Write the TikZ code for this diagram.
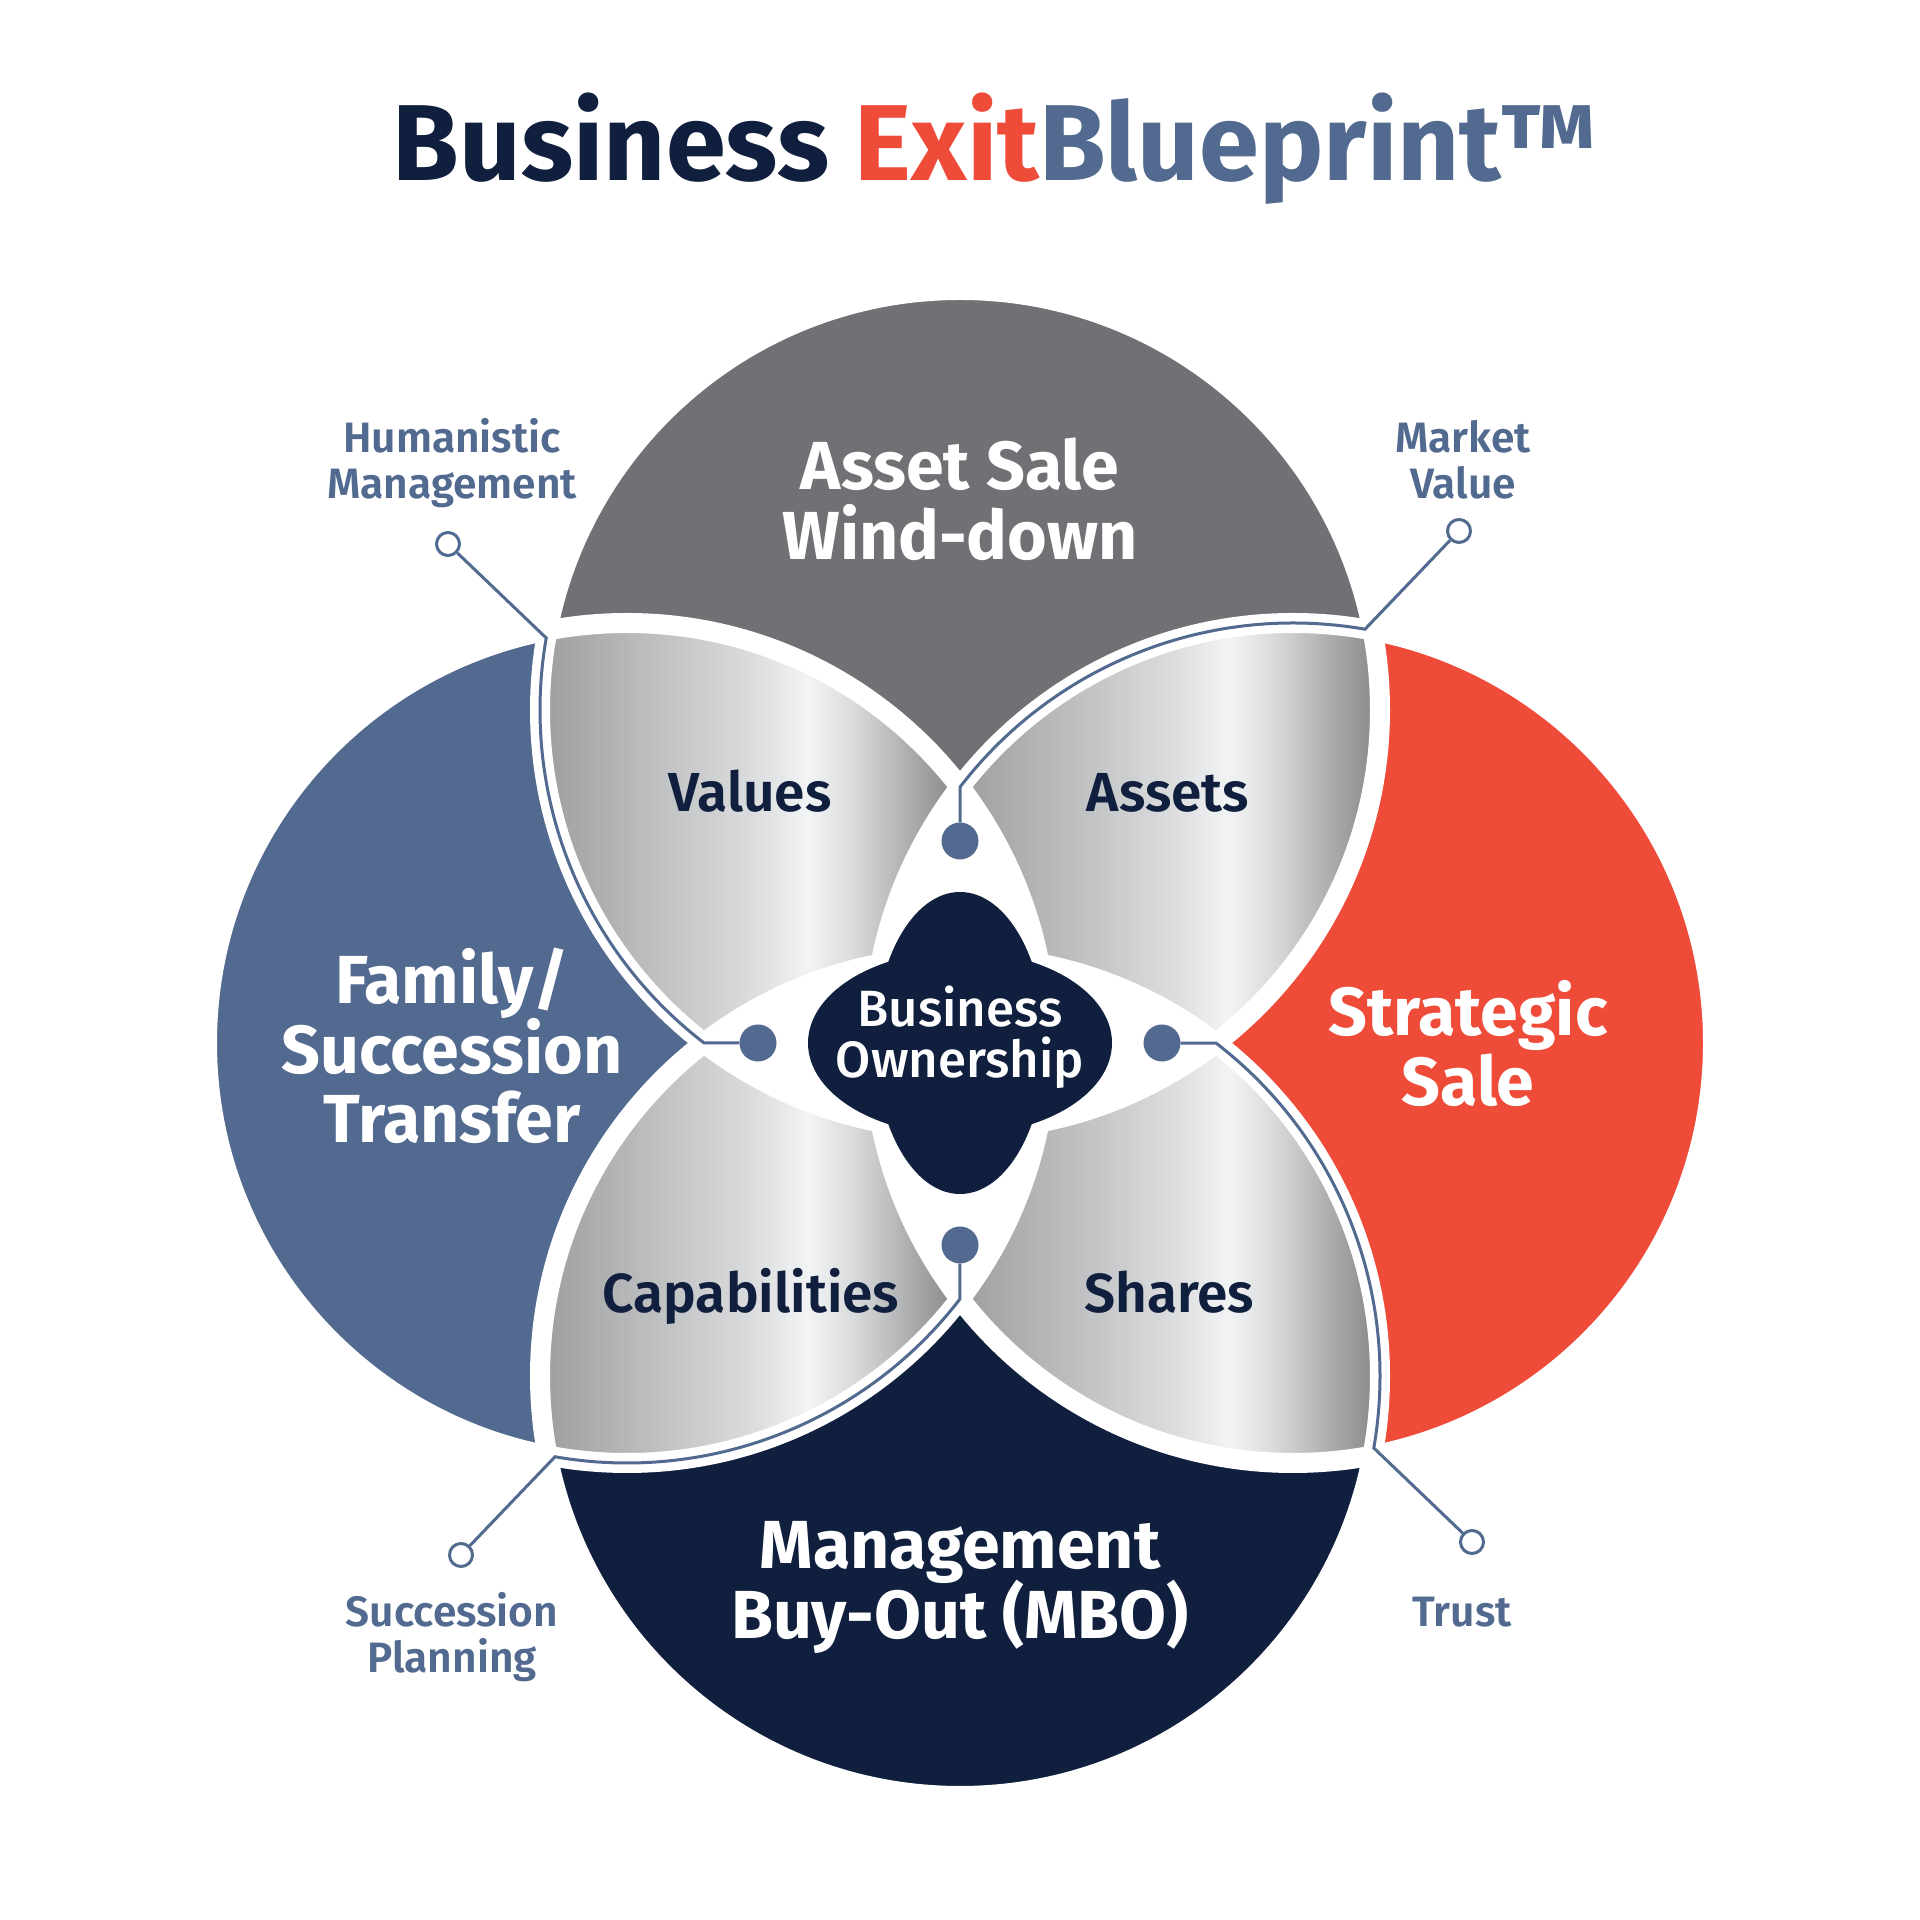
\documentclass[tikz,border=0pt]{standalone}
\usepackage{fontspec}
\setmainfont{Fira Sans}
\IfFontExistsTF{Fira Sans SemiBold}{\newfontfamily\fsemi{Fira Sans SemiBold}}{\newfontfamily\fsemi{Fira Sans}[FakeBold=1]}
\IfFontExistsTF{Fira Sans Medium}{\newfontfamily\fmed{Fira Sans Medium}}{\newfontfamily\fmed{Fira Sans}}
\usetikzlibrary{calc}
\definecolor{cnavy}{HTML}{0F1F3D}
\definecolor{cblue}{HTML}{526A8F}
\definecolor{cred}{HTML}{EF4B39}
\definecolor{cgray}{HTML}{707175}
\newcommand\stk[1]{\vtop{\lineskiplimit=-1000pt\halign{\hfil##\hfil\cr#1\crcr}}}
% metallic gradient built from thin vertical strips: #1 = left x, #2 = bottom y, #3 = top y
\newcommand\petalgrad[3]{%
  \foreach \pgI in {0,...,140}{%
    \pgfmathsetmacro\pgT{(\pgI*3+1.5)/420}%
    \pgfmathtruncatemacro\pgV{\pgT<0.27 ? 157+33*\pgT/0.27 : (\pgT<0.51 ? 190+30*(\pgT-0.27)/0.24 : (\pgT<0.64 ? 220+23*(\pgT-0.51)/0.13 : (\pgT<0.75 ? 243-26*(\pgT-0.64)/0.11 : (\pgT<0.90 ? 217-51*(\pgT-0.75)/0.15 : (\pgT<0.97 ? 166-23*(\pgT-0.90)/0.07 : 143)))))}%
    \pgfmathtruncatemacro\pgW{\pgV+1}%
    \pgfmathtruncatemacro\pgX{\pgV+3}%
    \definecolor{stripc}{RGB}{\pgV,\pgW,\pgX}%
    \fill[stripc] ({#1+3*\pgI},#2) rectangle ({#1+3*\pgI+3.8},#3);%
  }}
\begin{document}
\begin{tikzpicture}[x=1pt,y=1pt,
  conn/.style={draw=cblue, line width=3},
  hub/.style={circle, fill=cblue, minimum size=37, inner sep=0},
  tipc/.style={circle, draw=cblue, fill=white, line width=3, minimum size=23, inner sep=0},
  gap/.style={draw=white, line width=20},
  biglbl/.style={inner sep=0, anchor=base, text=white, font=\fontsize{68}{69.5}\selectfont\bfseries},
  petlbl/.style={inner sep=0, anchor=base, text=cnavy, font=\fontsize{55}{55}\selectfont\fsemi},
  outlbl/.style={inner sep=0, anchor=base, text=cblue, font=\fontsize{42.5}{45.5}\selectfont\fsemi}]
\useasboundingbox (0,0) rectangle (1920,1920);
\fill[white] (0,0) rectangle (1920,1920);
\def\rr{420}
\coordinate (C) at (960,877);
\coordinate (T) at (960,1210);
\coordinate (L) at (627,877);
\coordinate (R) at (1293,877);
\coordinate (B) at (960,544);
% outer circles
\fill[cgray] (T) circle[radius=\rr];
\fill[cblue] (L) circle[radius=\rr];
\fill[cred] (R) circle[radius=\rr];
\fill[cnavy] (B) circle[radius=\rr];
% petals
\begin{scope}\clip (T) circle[radius=\rr]; \clip (L) circle[radius=\rr];
\petalgrad{540}{860}{1310}\end{scope}
\begin{scope}\clip (T) circle[radius=\rr]; \clip (R) circle[radius=\rr];
\petalgrad{960}{860}{1310}\end{scope}
\begin{scope}\clip (B) circle[radius=\rr]; \clip (L) circle[radius=\rr];
\petalgrad{540}{445}{895}\end{scope}
\begin{scope}\clip (B) circle[radius=\rr]; \clip (R) circle[radius=\rr];
\petalgrad{960}{445}{895}\end{scope}
% white core
\begin{scope}\clip (T) circle[radius=\rr]; \clip (L) circle[radius=\rr]; \clip (R) circle[radius=\rr];
\fill[white] (0,0) rectangle (1920,1920);\end{scope}
\begin{scope}\clip (T) circle[radius=\rr]; \clip (L) circle[radius=\rr]; \clip (B) circle[radius=\rr];
\fill[white] (0,0) rectangle (1920,1920);\end{scope}
\begin{scope}\clip (T) circle[radius=\rr]; \clip (R) circle[radius=\rr]; \clip (B) circle[radius=\rr];
\fill[white] (0,0) rectangle (1920,1920);\end{scope}
\begin{scope}\clip (L) circle[radius=\rr]; \clip (R) circle[radius=\rr]; \clip (B) circle[radius=\rr];
\fill[white] (0,0) rectangle (1920,1920);\end{scope}
% white gaps
\draw[gap] (T) circle[radius=\rr];
\draw[gap] (L) circle[radius=\rr];
\draw[gap] (R) circle[radius=\rr];
\draw[gap] (B) circle[radius=\rr];
% hubs and connector tips
\node[hub] (dL) at (758,877) {};
\node[hub] (dT) at (960,1079) {};
\node[hub] (dR) at (1162,877) {};
\node[hub] (dB) at (960,675) {};
\node[tipc] (oH) at (448,1376) {};
\node[tipc] (oM) at (1459,1389) {};
\node[tipc] (oT) at (1472,378) {};
\node[tipc] (oS) at (461,365) {};
\coordinate (kH) at ($(T)+(170.13:\rr)$);
\coordinate (kM) at ($(R)+(80.13:\rr)$);
\coordinate (kT) at ($(B)+(-9.87:\rr)$);
\coordinate (kS) at ($(L)+(260.13:\rr)$);
\draw[conn] (oH) -- (kH) arc[start angle=170.13, end angle=232.45, radius=\rr] -- (dL);
\draw[conn] (oM) -- (kM) arc[start angle=80.13, end angle=142.45, radius=\rr] -- (dT);
\draw[conn] (oT) -- (kT) arc[start angle=-9.87, end angle=52.45, radius=\rr] -- (dR);
\draw[conn] (oS) -- (kS) arc[start angle=260.13, end angle=322.45, radius=\rr] -- (dB);
% central blob
\fill[cnavy] (C) ellipse[x radius=152, y radius=92];
\fill[cnavy] (C) ellipse[x radius=85, y radius=151];
\node[inner sep=0, anchor=base, text=white, font=\fontsize{51}{51}\selectfont\fmed] (own) at (960,893) {\stk{Business\cr Ownership}};
% title
\node[inner sep=0, anchor=base, font=\fontsize{108}{108}\selectfont\bfseries, text=cnavy] (title) at (995,1739)
  {Business \textcolor{cred}{Exit}\textcolor{cblue}{Blueprint™}};
% circle labels
\node[biglbl] (top) at (960,1430) {\stk{Asset Sale\cr Wind-down}};
\node[biglbl] (left) at (452,916) {\stk{Family/\cr Succession\cr Transfer}};
\node[biglbl] (right) at (1468,884) {\stk{Strategic\cr Sale}};
\node[biglbl] (bottom) at (960,351) {\stk{Management\cr Buy-Out (MBO)}};
% petal labels
\node[petlbl] (values) at (750,1108) {Values};
\node[petlbl] (assets) at (1168,1108) {Assets};
\node[petlbl] (capab) at (751,607) {Capabilities};
\node[petlbl] (shares) at (1169,607) {Shares};
% outer labels
\node[outlbl] (hum) at (452,1467) {\stk{Humanistic\cr Management}};
\node[outlbl] (mkt) at (1463,1467) {\stk{Market\cr Value}};
\node[outlbl] (succ) at (452,293) {\stk{Succession\cr Planning}};
\node[outlbl] (trust) at (1462,293) {Trust};
\end{tikzpicture}
\end{document}
